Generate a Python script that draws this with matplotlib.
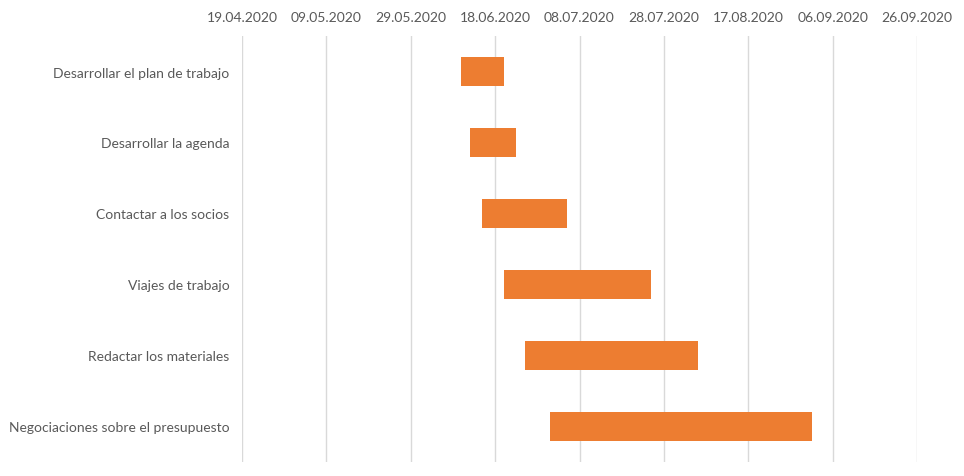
import matplotlib.pyplot as plt
import matplotlib.dates as mdates
import pandas as pd

# Données du diagramme de Gantt
tasks = [
    "Desarrollar el plan de trabajo",
    "Desarrollar la agenda",
    "Contactar a los socios",
    "Viajes de trabajo",
    "Redactar los materiales",
    "Negociaciones sobre el presupuesto",
]
start_dates = ["2020-06-10", "2020-06-12", "2020-06-15", "2020-06-20", "2020-06-25", "2020-07-01"]
end_dates = ["2020-06-20", "2020-06-23", "2020-07-05", "2020-07-25", "2020-08-05", "2020-09-01"]
tick_dates = pd.date_range("2020-04-19", "2020-09-26", freq="20D")

BAR_COLOR = "#ED7D31"
TEXT_COLOR = "#595959"
GRID_COLOR = "#D9D9D9"

plt.rcParams['font.family'] = ['Lato', 'DejaVu Sans']


def main():
    starts = mdates.date2num(pd.to_datetime(start_dates))
    ends = mdates.date2num(pd.to_datetime(end_dates))
    ypos = list(range(len(tasks)))

    fig = plt.figure(figsize=(9.64, 4.77), dpi=100)
    ax = fig.add_axes([242 / 964, 14 / 477, 675 / 964, 426 / 477])

    ax.barh(ypos, ends - starts, left=starts, height=0.4, color=BAR_COLOR, zorder=3)

    ax.set_yticks(ypos)
    ax.set_yticklabels(tasks)
    ax.set_ylim(len(tasks) - 0.5, -0.5)

    ax.set_xticks(mdates.date2num(tick_dates))
    ax.xaxis.set_major_formatter(mdates.DateFormatter("%d.%m.%Y"))
    ax.set_xlim(mdates.date2num(tick_dates[0]), mdates.date2num(tick_dates[-1]))
    ax.xaxis.tick_top()

    ax.grid(axis='x', color=GRID_COLOR, linewidth=1, zorder=0)
    for s in ax.spines.values():
        s.set_visible(False)
    ax.tick_params(axis='both', length=0, labelsize=10, colors=TEXT_COLOR)
    ax.tick_params(axis='x', pad=9)
    ax.tick_params(axis='y', pad=9)

    fig.savefig("out.png", dpi=100)


if __name__ == "__main__":
    main()
